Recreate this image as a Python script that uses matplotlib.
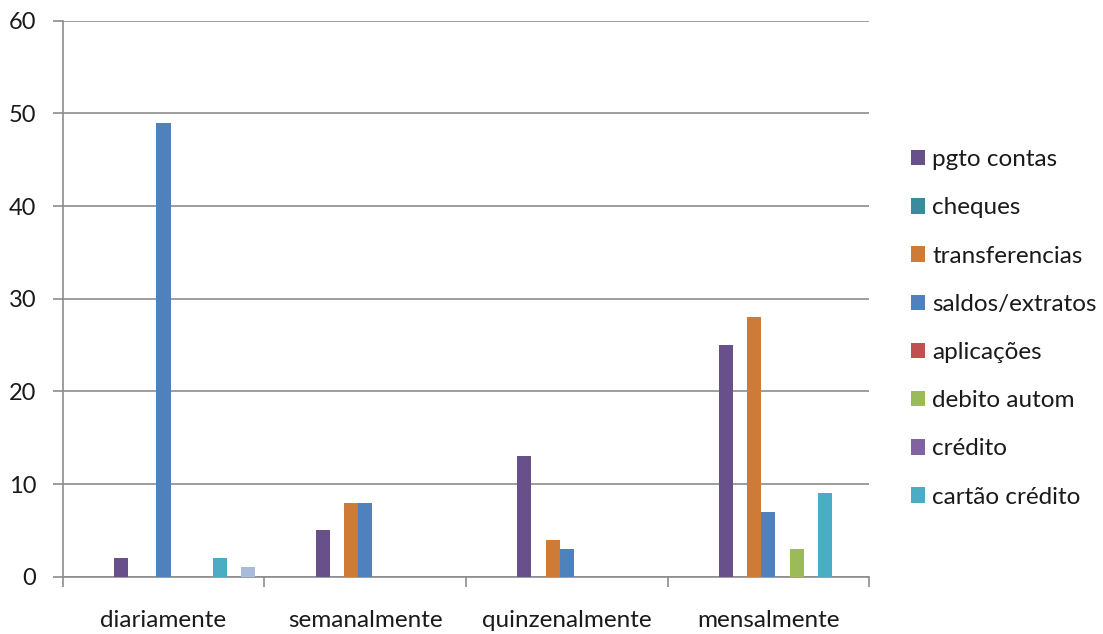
import matplotlib
matplotlib.use("Agg")
import matplotlib.pyplot as plt
from matplotlib.patches import Patch
import numpy as np

plt.rcParams['font.family'] = ['Lato', 'DejaVu Sans']

categories = ["diariamente", "semanalmente", "quinzenalmente", "mensalmente"]

series_names = ["pgto contas", "cheques", "transferencias", "saldos/extratos",
                "aplicações", "debito autom", "crédito", "cartão crédito", "", ""]
pgto_contas = [2, 5, 13, 25]
cheques = [0, 0, 0, 0]
transferencias = [0, 8, 4, 28]
saldos_extratos = [49, 8, 3, 7]
aplicacoes = [0, 0, 0, 0]
debito_autom = [0, 0, 0, 3]
credito = [0, 0, 0, 0]
cartao_credito = [2, 0, 0, 9]
serie_9 = [0, 0, 0, 0]
serie_10 = [1, 0, 0, 0]
values = [pgto_contas, cheques, transferencias, saldos_extratos, aplicacoes,
          debito_autom, credito, cartao_credito, serie_9, serie_10]

colors = ["#68508A", "#3A8B9E", "#CF7B38", "#4F81BD", "#C0504D",
          "#9BBB59", "#8064A2", "#4BACC6", "#F79646", "#A9BBDC"]

y_ticks = [0, 10, 20, 30, 40, 50, 60]

fig = plt.figure(figsize=(11.03, 6.34), dpi=100)
ax = fig.add_axes([0.0568, 0.0904, 0.788 - 0.0568, 0.9674 - 0.0904])

n_slots = 13
slot_offset = 3
width = 0.07
x = np.arange(len(categories))
for i, (vals, col) in enumerate(zip(values, colors)):
    slot = slot_offset + i
    pos = x + (slot - (n_slots - 1) / 2) * width
    ax.bar(pos, vals, width=width, color=col, zorder=3, linewidth=0)

ax.set_xlim(-0.5, len(categories) - 0.5)
ax.set_ylim(0, 60)
ax.set_yticks(y_ticks)
ax.yaxis.grid(True, color="#8C8C8C", linewidth=1.2, zorder=0)
ax.set_axisbelow(True)

for s in ["top", "right"]:
    ax.spines[s].set_visible(False)
for s in ["left", "bottom"]:
    ax.spines[s].set_color("#8C8C8C")
    ax.spines[s].set_linewidth(1.2)

ax.tick_params(axis="y", length=7, width=1.2, color="#8C8C8C", pad=12,
               labelsize=17, labelcolor="#1a1a1a")
ax.set_xticks(np.arange(-0.5, len(categories)), minor=False)
ax.set_xticklabels([])
ax.tick_params(axis="x", which="major", length=7, width=1.2, color="#8C8C8C")
ax.set_xticks(x, minor=True)
ax.set_xticklabels(categories, minor=True)
ax.tick_params(axis="x", which="minor", length=0, pad=24, labelsize=17.5,
               labelcolor="#1a1a1a")

handles = [Patch(facecolor=colors[i], edgecolor="none") for i in range(8)]
fig.legend(handles, series_names[:8], loc="center left",
           bbox_to_anchor=(0.8257, 0.482), frameon=False, fontsize=17.5,
           handlelength=0.6, handleheight=0.6, handletextpad=0.28,
           labelspacing=1.12, borderpad=0, borderaxespad=0,
           labelcolor="#1a1a1a")

fig.savefig("out.png", dpi=100)
